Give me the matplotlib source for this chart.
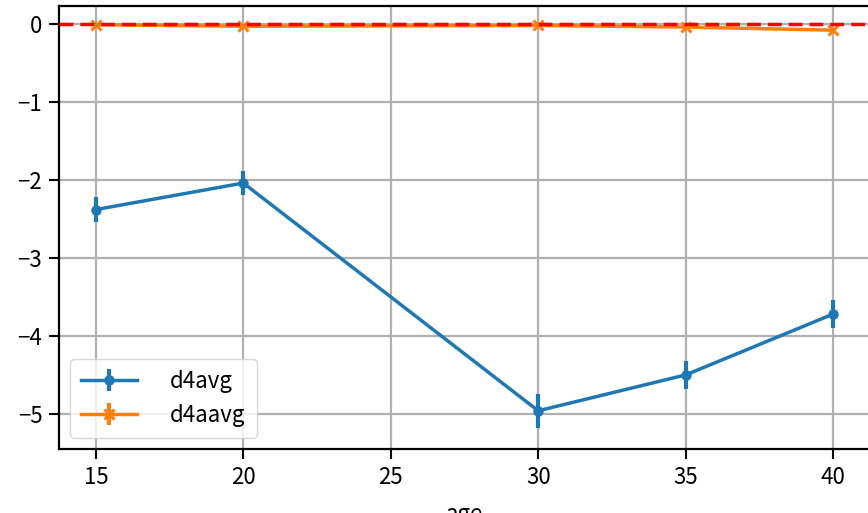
import matplotlib
matplotlib.use('Agg')
import matplotlib.pyplot as plt

plt.rcParams['font.family'] = ['Noto Sans CJK JP', 'DejaVu Sans']
plt.rcParams['axes.unicode_minus'] = True

# 年齢ごとの平均値と誤差
age = [15, 20, 30, 35, 40]
d4avg = [-2.38, -2.04, -4.96, -4.50, -3.72]
d4avg_err = [0.16, 0.15, 0.22, 0.18, 0.18]
d4aavg = [-0.01, -0.03, -0.02, -0.04, -0.08]
d4aavg_err = [0.01, 0.01, 0.01, 0.01, 0.01]

fig = plt.figure(figsize=(8.68, 5.13), dpi=100)
ax = fig.add_axes([59/868, 64/513, 811/868, 443/513])

ax.errorbar(age, d4avg, yerr=d4avg_err, marker='o', ms=6.5, lw=2.5,
            elinewidth=3, color='#1f77b4', label='d4avg')
ax.errorbar(age, d4aavg, yerr=d4aavg_err, marker='x', ms=6.5, mew=2.2, lw=2.5,
            elinewidth=3, color='#ff7f0e', label='d4aavg')
ax.axhline(0, color='red', ls='--', lw=2.5, dashes=(4, 2), zorder=3)

ax.set_xlim(13.75, 41.25)
ax.set_ylim(-5.45, 0.23)
ax.set_xticks([15, 20, 25, 30, 35, 40])
ax.set_yticks([0, -1, -2, -3, -4, -5])
ax.grid(True, color='#b0b0b0', lw=1.6)
ax.set_axisbelow(True)
ax.tick_params(labelsize=16, length=7, width=1.5, pad=5)
for s in ax.spines.values():
    s.set_linewidth(1.6)
ax.set_xlabel('age', fontsize=16, labelpad=10)

ax.legend(loc='lower left', fontsize=16, handletextpad=1.5, handlelength=2.5,
          borderpad=0.5, labelspacing=0.5, framealpha=0.8,
          bbox_to_anchor=(0.0, 0.0))

fig.savefig('out.png', dpi=100)
